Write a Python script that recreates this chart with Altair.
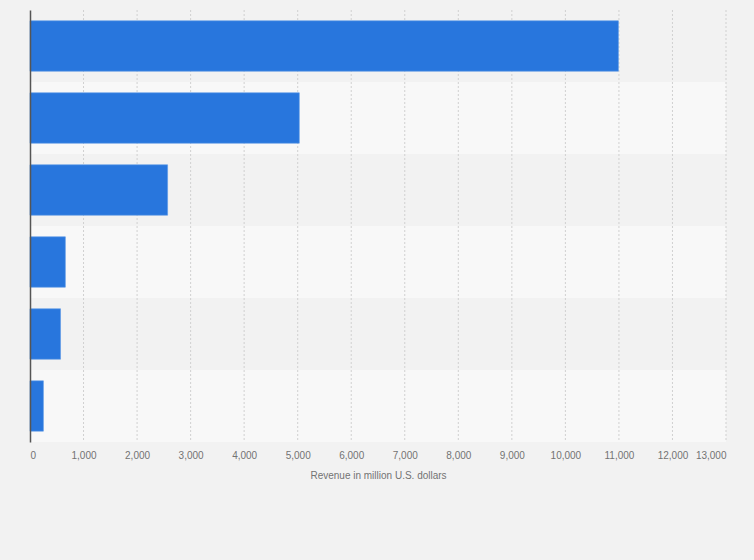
import altair as alt
import pandas as pd

categories = ["Segment A", "Segment B", "Segment C", "Segment D", "Segment E", "Segment F"]
revenue = [10990, 5030, 2570, 660, 570, 250]
shades = ["dark", "light", "dark", "light", "dark", "light"]
x_ticks = list(range(0, 13001, 1000))

df = pd.DataFrame({"category": categories, "revenue": revenue, "shade": shades})
grid_df = pd.DataFrame({"revenue": x_ticks[1:]})

W, H = 696, 432

x_scale = alt.Scale(domain=[0, 13000], nice=False)
x_axis = alt.Axis(title="Revenue in million U.S. dollars", values=x_ticks, format=",d",
                  labelFlush=True, grid=False,
                  domain=False, ticks=False, labelColor="#737373", labelFontSize=10,
                  labelFont="Arial", labelPadding=8, titleFont="Arial", titleFontSize=10,
                  titleFontWeight="normal", titleColor="#737373", titlePadding=10)

bands = alt.Chart(df).mark_rect().encode(
    y=alt.Y("category:N", sort=categories, axis=None,
            scale=alt.Scale(paddingInner=0, paddingOuter=0)),
    x=alt.value(0),
    x2=alt.value(W),
    color=alt.Color("shade:N", scale=alt.Scale(domain=["dark", "light"], range=["#f2f2f2", "#f8f8f8"]), legend=None),
)

grid = alt.Chart(grid_df).mark_rule(color="#d0d0d0", strokeDash=[2, 2], strokeWidth=1).encode(
    x=alt.X("revenue:Q", scale=x_scale, axis=x_axis),
    y=alt.value(0),
    y2=alt.value(H),
)

bars = alt.Chart(df).mark_bar(color="#2876dd", stroke="#5b97e6", strokeWidth=0.6).encode(
    x=alt.X("revenue:Q", scale=x_scale, axis=x_axis),
    y=alt.Y("category:N", sort=categories,
            scale=alt.Scale(paddingInner=0.3, paddingOuter=0.15),
            axis=alt.Axis(title=None, labels=False, ticks=False, domain=True, zindex=2,
                          domainColor="#555555", domainWidth=1.5, grid=False)),
)

chart = alt.layer(bands, grid, bars).resolve_scale(y="independent", color="independent").properties(
    width=W, height=H,
    background="#f2f2f2",
    padding={"left": 30, "top": 10, "right": 28, "bottom": 118},
    autosize=alt.AutoSizeParams(type="none"),
).configure_view(stroke=None)

chart.save("out.html", embed_options={"renderer": "svg", "actions": False})
